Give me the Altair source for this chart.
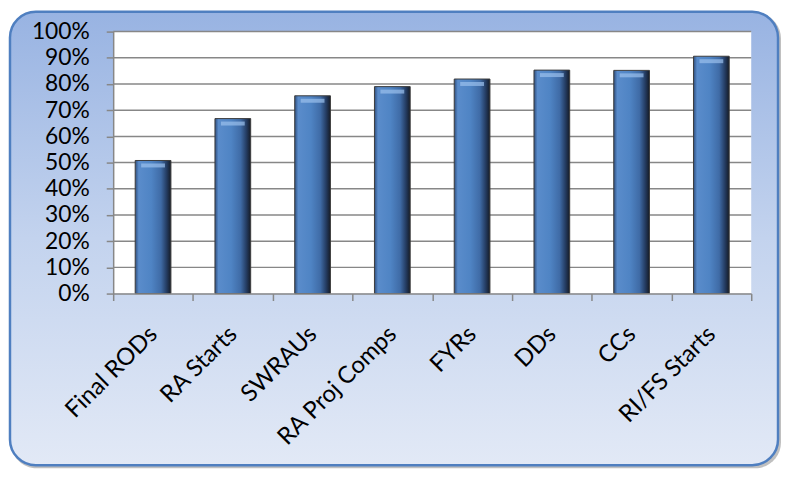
import altair as alt
import pandas as pd

categories = ["Final RODs", "RA Starts", "SWRAUs", "RA Proj Comps", "FYRs", "DDs", "CCs", "RI/FS Starts"]
values = [0.508, 0.668, 0.755, 0.79, 0.819, 0.853, 0.852, 0.906]
y_ticks = [0.0, 0.1, 0.2, 0.3, 0.4, 0.5, 0.6, 0.7, 0.8, 0.9, 1.0]
grid_vals = [0.1, 0.2, 0.3, 0.4, 0.5, 0.6, 0.7, 0.8, 0.9, 1.0]

W, H = 643, 264

df = pd.DataFrame({"cat": categories, "value": values})
grid_df = pd.DataFrame({"value": grid_vals})
one = alt.Data(values=[{"k": 1}])

yscale = alt.Scale(domain=[0, 1])
xscale = alt.Scale(paddingInner=0, paddingOuter=0)


def y_axis():
    return alt.Axis(values=y_ticks, format=".0%", labelPadding=17, labelFontSize=23,
                    labelOverlap=False, zindex=1, grid=False)


def x_axis():
    return alt.Axis(labelAngle=315, labelAlign="right", labelBaseline="middle",
                    labelPadding=30, labelFontSize=24, tickBand="extent",
                    labelOverlap=False, zindex=1, grid=False)


bg_grad = alt.Gradient(
    gradient="linear", x1=0, x2=0, y1=0, y2=1,
    stops=[alt.GradientStop(offset=0, color="#98B3E2"),
           alt.GradientStop(offset=0.5, color="#C3D3EE"),
           alt.GradientStop(offset=1, color="#E2E9F6")],
)

shadow = alt.Chart(one).mark_rect(cornerRadius=26, fill="#8C8C8C", opacity=0.55).encode(
    x=alt.value(-103), x2=alt.value(W + 30), y=alt.value(-19), y2=alt.value(H + 176)
)
bg = alt.Chart(one).mark_rect(cornerRadius=26, fill=bg_grad, stroke="#4F7FC0", strokeWidth=2.5).encode(
    x=alt.value(-104), x2=alt.value(W + 27), y=alt.value(-20), y2=alt.value(H + 173)
)
plot_bg = alt.Chart(one).mark_rect(fill="white").encode(
    x=alt.value(0), x2=alt.value(W), y=alt.value(0), y2=alt.value(H)
)
grid = alt.Chart(grid_df).mark_rule(color="#878787", strokeWidth=1.5).encode(
    y=alt.Y("value:Q", scale=yscale, axis=y_axis(), title=None), x=alt.value(0), x2=alt.value(W)
)

bar_grad = alt.Gradient(
    gradient="linear", x1=0, x2=1, y1=0, y2=0,
    stops=[alt.GradientStop(offset=0, color="#2E4E7E"),
           alt.GradientStop(offset=0.1, color="#5A8CCB"),
           alt.GradientStop(offset=0.45, color="#4F84C4"),
           alt.GradientStop(offset=0.72, color="#3F6BA6"),
           alt.GradientStop(offset=0.88, color="#243C62"),
           alt.GradientStop(offset=1, color="#151B26")],
)

bars = alt.Chart(df).mark_bar(size=36, fill=bar_grad, stroke="#3C3C3C", strokeWidth=1).encode(
    x=alt.X("cat:N", sort=categories, scale=xscale, title=None, axis=x_axis()),
    y=alt.Y("value:Q", scale=yscale, axis=y_axis(), title=None),
)

top_hl = alt.Chart(df).mark_tick(size=24, thickness=4, yOffset=5, color="#9BC1EC").encode(
    x=alt.X("cat:N", sort=categories, scale=xscale, title=None, axis=x_axis()),
    y=alt.Y("value:Q", scale=yscale, axis=y_axis(), title=None),
)

chart = alt.layer(shadow, bg, plot_bg, grid, bars, top_hl).properties(
    width=W, height=H,
    autosize=alt.AutoSizeParams(type="none"),
    padding={"left": 106, "top": 22, "right": 30, "bottom": 176},
).configure_view(stroke=None).configure_axis(
    labelFont="Lato", labelColor="black", domainColor="#878787", domainWidth=1.5,
    tickColor="#878787", tickWidth=1.5, tickSize=7,
)

chart.save("out.html", embed_options={"renderer": "svg", "actions": False})
